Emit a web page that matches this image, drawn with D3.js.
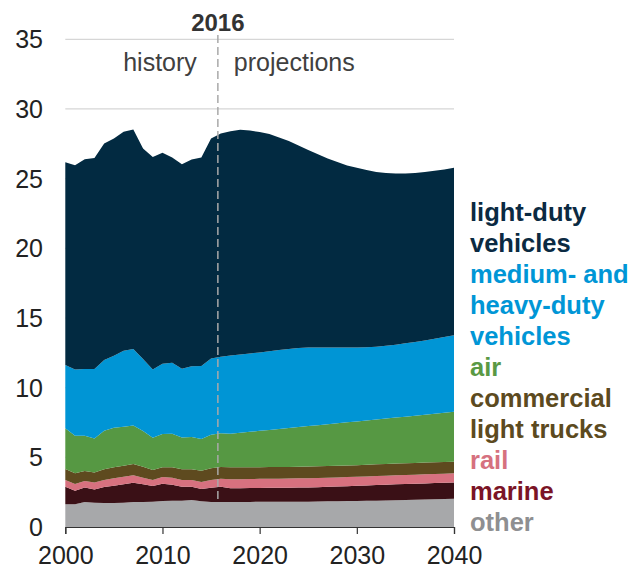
<!DOCTYPE html>
<html>
<head>
<meta charset="utf-8">
<script src="https://cdn.jsdelivr.net/npm/d3@7/dist/d3.min.js"></script>
<style>
  html, body { margin: 0; padding: 0; background: #fff; }
  svg { display: block; font-family: "Liberation Sans", Arial, sans-serif; }
</style>
</head>
<body>
<svg id="chart" width="643" height="569"></svg>
<script>
// Transportation energy consumption by mode, quadrillion Btu (history 2000-2016, projections to 2040)
const years = d3.range(2000, 2041);

const other = [1.63,1.63,1.79,1.74,1.72,1.72,1.74,1.79,1.79,1.82,1.87,1.89,1.89,1.94,1.84,1.79,1.79,
  1.79,1.80,1.80,1.81,1.81,1.81,1.82,1.82,1.82,1.83,1.84,1.85,1.86,1.87,1.88,1.89,1.91,1.92,1.94,1.96,1.98,2.00,2.01,2.03];
const marine = [1.26,0.97,1.05,0.96,1.15,1.24,1.32,1.39,1.27,1.12,1.24,1.15,1.00,0.95,0.89,1.03,1.10,
  0.99,0.98,0.99,0.99,1.00,1.00,1.00,1.01,1.02,1.03,1.04,1.06,1.07,1.09,1.10,1.12,1.12,1.14,1.14,1.14,1.15,1.15,1.17,1.17];
const rail = [0.48,0.48,0.46,0.50,0.50,0.53,0.55,0.53,0.48,0.43,0.47,0.50,0.48,0.48,0.50,0.55,0.58,
  0.64,0.65,0.65,0.66,0.66,0.66,0.66,0.66,0.66,0.66,0.66,0.65,0.65,0.65,0.65,0.65,0.65,0.65,0.65,0.65,0.65,0.65,0.65,0.65];
const commercialLightTrucks = [0.79,0.77,0.72,0.72,0.77,0.79,0.79,0.81,0.79,0.72,0.70,0.74,0.77,0.77,0.81,0.84,0.84,
  0.86,0.85,0.84,0.83,0.83,0.83,0.83,0.84,0.84,0.84,0.84,0.84,0.83,0.83,0.83,0.84,0.84,0.84,0.84,0.84,0.84,0.84,0.84,0.84];
const air = [2.92,2.70,2.53,2.44,2.77,2.84,2.80,2.77,2.56,2.32,2.39,2.41,2.29,2.32,2.27,2.41,2.41,
  2.42,2.48,2.55,2.61,2.67,2.74,2.79,2.84,2.90,2.95,3.00,3.04,3.10,3.14,3.19,3.22,3.26,3.30,3.35,3.40,3.44,3.49,3.53,3.58];
const mediumHeavy = [4.54,4.76,4.79,4.98,5.07,5.17,5.45,5.48,5.16,4.90,5.05,5.10,4.93,5.07,5.24,5.48,5.50,
  5.60,5.62,5.62,5.63,5.65,5.66,5.68,5.68,5.65,5.58,5.50,5.44,5.37,5.31,5.25,5.21,5.22,5.23,5.26,5.29,5.33,5.38,5.44,5.50];
const lightDuty = [14.56,14.66,15.06,15.15,15.54,15.59,15.71,15.76,15.11,15.25,15.13,14.73,14.68,14.85,14.97,15.78,16.02,
  16.10,16.12,16.00,15.82,15.58,15.25,14.92,14.53,14.16,13.86,13.57,13.32,13.07,12.89,12.72,12.55,12.40,12.29,12.19,12.12,12.08,12.05,12.02,12.01];

const yTicks = [0, 5, 10, 15, 20, 25, 30, 35];
const xTicks = [2000, 2010, 2020, 2030, 2040];
const dividerYear = 2015.7;

// Stack order, bottom to top
const seriesKeys = ["other", "marine", "rail", "clt", "air", "mhdv", "ldv"];
const seriesColors = {
  other: "#a7a8aa", marine: "#3a1016", rail: "#d7717f", clt: "#5e4a1f",
  air: "#569843", mhdv: "#0095d5", ldv: "#022a41"
};

// Legend lines (label text, colour)
const legendLines = [
  ["light-duty", "#0b2a42"], ["vehicles", "#0b2a42"],
  ["medium- and", "#0096d6"], ["heavy-duty", "#0096d6"], ["vehicles", "#0096d6"],
  ["air", "#5a9944"],
  ["commercial", "#5c4a20"], ["light trucks", "#5c4a20"],
  ["rail", "#d6717f"],
  ["marine", "#7b1426"],
  ["other", "#8e8f91"]
];

const table = years.map((yr, i) => ({
  year: yr, other: other[i], marine: marine[i], rail: rail[i], clt: commercialLightTrucks[i],
  air: air[i], mhdv: mediumHeavy[i], ldv: lightDuty[i]
}));

const svg = d3.select("#chart");
const x = d3.scaleLinear().domain([2000, 2040]).range([65.3, 454]);
const y = d3.scaleLinear().domain([0, 35]).range([527, 39.3]);

// Gridlines
svg.append("g").selectAll("line").data(yTicks.filter(d => d > 0)).join("line")
  .attr("x1", x(2000)).attr("x2", x(2040))
  .attr("y1", d => y(d)).attr("y2", d => y(d))
  .attr("stroke", "#d6d6d6").attr("stroke-width", 1.2);

// Stacked areas
const stacked = d3.stack().keys(seriesKeys)(table);
const area = d3.area()
  .x(d => x(d.data.year))
  .y0(d => y(d[0]))
  .y1(d => y(d[1]));
svg.append("g").selectAll("path").data(stacked).join("path")
  .attr("d", area)
  .attr("fill", d => seriesColors[d.key]);

// Y tick labels
svg.append("g").selectAll("text").data(yTicks).join("text")
  .attr("x", 43).attr("y", d => y(d))
  .attr("dy", "0.36em")
  .attr("text-anchor", "end")
  .attr("font-size", 25).attr("fill", "#222")
  .text(d => d);

// X axis
const xAxis = d3.axisBottom(x).tickValues(xTicks).tickFormat(d3.format("d")).tickSize(7).tickPadding(12);
const gx = svg.append("g").attr("transform", `translate(0,${y(0)})`).call(xAxis);
gx.select(".domain").attr("stroke", "#333").attr("stroke-width", 1.2);
gx.selectAll(".tick line").attr("stroke", "#333").attr("stroke-width", 1.2);
gx.selectAll(".tick text").attr("font-size", 25).attr("fill", "#222")
  .attr("font-family", "Liberation Sans, Arial, sans-serif");

// History / projections divider
svg.append("line")
  .attr("x1", x(dividerYear)).attr("x2", x(dividerYear))
  .attr("y1", 35).attr("y2", y(1.8))
  .attr("stroke", "#a9a9a9").attr("stroke-width", 1.5)
  .attr("stroke-dasharray", "8,4");

svg.append("text")
  .attr("x", x(dividerYear)).attr("y", 31)
  .attr("text-anchor", "middle")
  .attr("font-size", 24).attr("font-weight", "bold").attr("fill", "#333")
  .text("2016");
svg.append("text")
  .attr("x", x(dividerYear) - 21).attr("y", 71)
  .attr("text-anchor", "end")
  .attr("font-size", 25).attr("fill", "#404040")
  .text("history");
svg.append("text")
  .attr("x", x(dividerYear) + 16).attr("y", 71)
  .attr("text-anchor", "start")
  .attr("font-size", 25).attr("fill", "#404040")
  .text("projections");

// Legend
svg.append("g").selectAll("text").data(legendLines).join("text")
  .attr("x", 470)
  .attr("y", (d, i) => 221 + i * 31)
  .attr("font-size", 25.5).attr("font-weight", "bold")
  .attr("fill", d => d[1])
  .text(d => d[0]);
</script>
</body>
</html>
